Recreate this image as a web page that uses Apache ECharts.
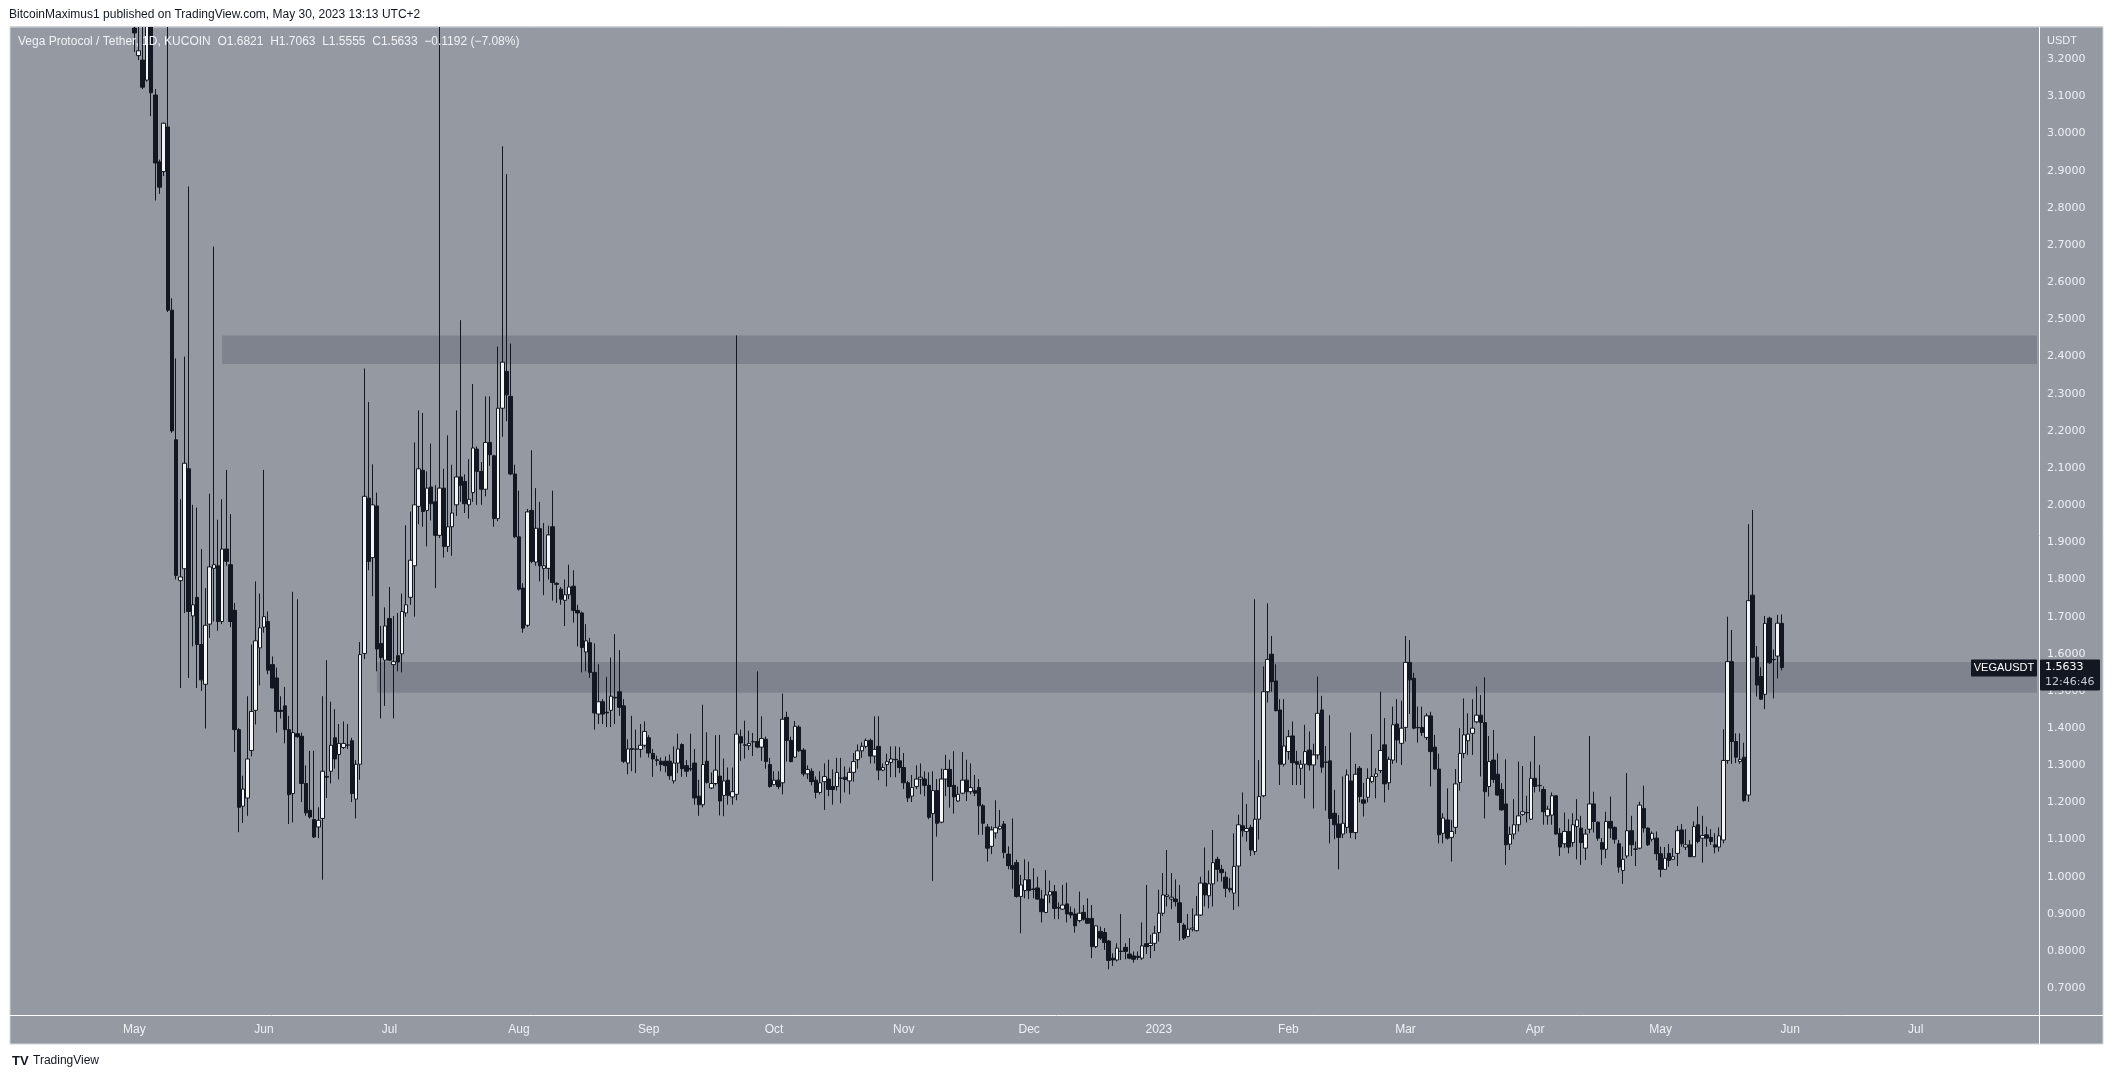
<!DOCTYPE html>
<html>
<head>
<meta charset="utf-8">
<script src="https://cdn.jsdelivr.net/npm/echarts@6/dist/echarts.min.js"></script>
<style>
html,body{margin:0;padding:0;background:#ffffff;}
#chart{width:2113px;height:1079px;}
</style>
</head>
<body>
<div id="chart"></div>
<script>
// ---- axis range / categories ----
const axisStart = '2022-04-02';
const axisEnd = '2023-07-30';
const firstCandle = '2022-05-01';
const yMin = 0.628;
const yMax = 3.287;
const yTicks = [0.7, 0.8, 0.9, 1.0, 1.1, 1.2, 1.3, 1.4, 1.5, 1.6, 1.7, 1.8, 1.9, 2.0, 2.1, 2.2, 2.3, 2.4, 2.5, 2.6, 2.7, 2.8, 2.9, 3.0, 3.1, 3.2];
const monthNames = ['Jan','Feb','Mar','Apr','May','Jun','Jul','Aug','Sep','Oct','Nov','Dec'];

// ---- daily candles, [open, high, low, close] ----
const may22 = [
[3.284,3.40,3.22,3.271],[3.21,3.35,3.198,3.223],[3.198,3.30,3.12,3.125],[3.144,3.45,3.14,3.31],[3.30,3.40,3.047,3.11],
[3.104,3.12,2.82,2.921],[2.924,2.93,2.838,2.856],[2.898,3.03,2.886,3.028],[3.018,3.29,2.52,2.525],[2.525,2.557,2.195,2.20],
[2.176,2.395,1.80,1.811],[1.797,2.016,1.508,1.807],[1.829,2.40,1.71,2.113],[2.098,2.858,1.535,1.714],[1.702,2.001,1.62,1.732],
[1.752,1.994,1.508,1.625],[1.625,1.882,1.50,1.53],[1.518,1.777,1.399,1.677],[1.68,2.031,1.643,1.834],[1.83,2.696,1.687,1.84],
[1.837,1.961,1.662,1.687],[1.687,2.016,1.68,1.882],[1.882,2.095,1.837,1.849],[1.84,1.976,1.672,1.687],[1.717,1.737,1.336,1.396],
[1.396,1.40,1.12,1.187],[1.19,1.272,1.145,1.236],[1.212,1.486,1.164,1.317],[1.34,1.625,1.324,1.445],[1.448,1.795,1.41,1.635],
[1.616,1.762,1.515,1.67]];
const jun22 = [
[1.672,2.095,1.657,1.70],[1.687,1.714,1.545,1.556],[1.571,1.593,1.508,1.508],[1.535,1.563,1.388,1.445],[1.448,1.486,1.426,1.445],
[1.46,1.511,1.359,1.396],[1.396,1.433,1.142,1.221],[1.224,1.767,1.146,1.388],[1.385,1.747,1.374,1.377],[1.378,1.388,1.201,1.251],
[1.251,1.30,1.164,1.172],[1.179,1.339,1.157,1.161],[1.154,1.339,1.104,1.107],[1.134,1.187,1.104,1.152],[1.157,1.486,0.992,1.284],
[1.27,1.583,1.212,1.268],[1.284,1.471,1.251,1.354],[1.374,1.451,1.291,1.317],[1.329,1.411,1.262,1.359],[1.348,1.418,1.344,1.359],
[1.354,1.411,1.344,1.355],[1.366,1.374,1.201,1.224],[1.209,1.314,1.157,1.303],[1.303,1.632,1.261,1.598],[1.601,2.368,1.586,2.024],
[2.019,2.278,1.825,1.849],[1.859,2.11,1.755,2.001],[1.998,2.034,1.553,1.613],[1.628,1.675,1.426,1.59],[1.583,1.725,1.46,1.675]];
const jul22 = [
[1.695,1.78,1.58,1.583],[1.571,1.702,1.426,1.579],[1.595,1.71,1.553,1.578],[1.60,1.762,1.55,1.714],[1.71,1.946,1.70,1.732],
[1.752,1.983,1.732,1.852],[1.837,2.169,1.70,2.001],[1.997,2.255,1.949,2.098],[2.094,2.248,1.942,1.983],[1.986,2.091,1.889,2.046],
[2.049,2.166,1.959,2.004],[2.009,2.054,1.777,1.919],[1.919,3.45,1.912,2.046],[2.046,2.098,1.859,1.889],[1.889,2.188,1.874,1.942],
[1.942,2.109,1.864,1.979],[2.001,2.255,1.971,2.076],[2.076,2.498,2.009,2.054],[2.064,2.083,1.979,2.004],[2.001,2.124,1.964,2.016],
[2.034,2.326,2.009,2.154],[2.151,2.158,2.001,2.091],[2.091,2.116,2.001,2.043],[2.043,2.293,2.024,2.169],[2.169,2.293,2.106,2.136],
[2.133,2.136,1.942,1.964],[1.964,2.427,1.957,2.261],[2.261,2.966,2.184,2.385],[2.36,2.891,2.226,2.297],[2.293,2.435,2.081,2.084],
[2.084,2.109,1.912,1.915]];
const aug22 = [
[1.915,2.039,1.77,1.774],[1.777,1.79,1.657,1.669],[1.677,1.99,1.672,1.982],[1.986,2.148,1.844,1.849],[1.847,2.046,1.837,1.938],
[1.937,2.009,1.795,1.837],[1.83,1.952,1.758,1.837],[1.83,1.945,1.80,1.92],[1.942,2.039,1.743,1.792],[1.79,1.792,1.737,1.787],
[1.774,1.78,1.732,1.747],[1.744,1.80,1.675,1.759],[1.759,1.84,1.747,1.78],[1.782,1.825,1.684,1.717],[1.717,1.732,1.62,1.71],
[1.71,1.714,1.55,1.617],[1.605,1.68,1.553,1.635],[1.63,1.643,1.535,1.55],[1.55,1.628,1.396,1.441],[1.438,1.572,1.411,1.471],
[1.471,1.478,1.411,1.438],[1.443,1.538,1.403,1.441],[1.448,1.59,1.403,1.486],[1.483,1.653,1.411,1.481],[1.498,1.61,1.433,1.456],
[1.46,1.478,1.306,1.311],[1.306,1.37,1.276,1.344],[1.345,1.433,1.284,1.343],[1.343,1.396,1.279,1.344],[1.343,1.411,1.321,1.354],
[1.354,1.418,1.348,1.391]];
const sep22 = [
[1.374,1.381,1.321,1.333],[1.332,1.344,1.269,1.317],[1.315,1.326,1.299,1.313],[1.311,1.321,1.284,1.302],[1.311,1.324,1.281,1.299],
[1.311,1.329,1.261,1.272],[1.258,1.351,1.251,1.306],[1.306,1.385,1.279,1.344],[1.356,1.359,1.269,1.291],[1.299,1.314,1.269,1.284],
[1.291,1.385,1.284,1.29],[1.306,1.344,1.194,1.212],[1.217,1.261,1.164,1.194],[1.194,1.463,1.187,1.302],[1.311,1.389,1.251,1.254],
[1.239,1.281,1.236,1.251],[1.251,1.381,1.246,1.287],[1.271,1.382,1.165,1.204],[1.219,1.318,1.163,1.258],[1.26,1.294,1.194,1.219],
[1.215,1.294,1.194,1.229],[1.222,2.457,1.206,1.384],[1.377,1.396,1.312,1.36],[1.355,1.42,1.318,1.354],[1.353,1.393,1.341,1.359],
[1.363,1.387,1.325,1.364],[1.364,1.553,1.346,1.349],[1.349,1.432,1.312,1.372],[1.37,1.377,1.291,1.31],[1.302,1.32,1.24,1.243]];
const oct22 = [
[1.248,1.284,1.246,1.26],[1.26,1.284,1.236,1.243],[1.253,1.493,1.222,1.424],[1.429,1.444,1.31,1.367],[1.367,1.377,1.308,1.31],
[1.322,1.419,1.32,1.405],[1.403,1.408,1.336,1.339],[1.341,1.346,1.27,1.277],[1.277,1.30,1.263,1.289],[1.284,1.292,1.246,1.256],
[1.26,1.27,1.211,1.227],[1.227,1.284,1.222,1.253],[1.256,1.305,1.18,1.27],[1.263,1.315,1.217,1.235],[1.243,1.289,1.194,1.235],
[1.243,1.32,1.232,1.281],[1.265,1.32,1.198,1.266],[1.268,1.297,1.227,1.262],[1.258,1.294,1.222,1.281],[1.281,1.333,1.256,1.31],
[1.315,1.356,1.291,1.339],[1.339,1.362,1.32,1.351],[1.351,1.372,1.346,1.367],[1.367,1.372,1.305,1.325],[1.325,1.432,1.305,1.343],
[1.351,1.432,1.26,1.287],[1.287,1.305,1.284,1.294],[1.302,1.331,1.243,1.31],[1.308,1.351,1.268,1.317],[1.315,1.351,1.268,1.316],
[1.312,1.349,1.279,1.294]];
const nov22 = [
[1.294,1.333,1.236,1.253],[1.253,1.258,1.201,1.212],[1.217,1.274,1.201,1.24],[1.243,1.30,1.236,1.263],[1.263,1.305,1.222,1.268],
[1.263,1.284,1.217,1.246],[1.246,1.281,1.155,1.16],[1.17,1.284,0.989,1.232],[1.232,1.263,1.108,1.144],[1.147,1.291,1.144,1.263],
[1.263,1.328,1.217,1.289],[1.289,1.315,1.186,1.243],[1.246,1.338,1.17,1.215],[1.204,1.243,1.201,1.222],[1.225,1.336,1.222,1.26],
[1.26,1.315,1.204,1.229],[1.229,1.305,1.222,1.24],[1.232,1.274,1.217,1.225],[1.24,1.263,1.113,1.191],[1.191,1.196,1.113,1.144],
[1.134,1.142,1.041,1.077],[1.082,1.136,1.061,1.126],[1.118,1.206,1.103,1.132],[1.129,1.18,1.126,1.136],[1.142,1.15,1.05,1.065],
[1.061,1.082,1.02,1.03],[1.03,1.157,0.968,1.02],[1.038,1.046,0.944,0.947],[0.947,1.005,0.848,0.978],[0.963,1.047,0.942,0.992]];
const dec22 = [
[0.992,1.041,0.94,0.963],[0.967,1.023,0.942,0.966],[0.97,1.0,0.938,0.94],[0.94,0.965,0.877,0.906],[0.904,1.018,0.902,0.951],
[0.951,0.99,0.929,0.96],[0.96,0.978,0.886,0.915],[0.917,0.931,0.886,0.916],[0.913,0.978,0.911,0.924],[0.927,0.984,0.877,0.90],
[0.904,0.92,0.888,0.897],[0.90,0.915,0.85,0.868],[0.882,0.96,0.877,0.902],[0.904,0.924,0.882,0.886],[0.888,0.942,0.873,0.875],
[0.888,0.924,0.781,0.812],[0.812,0.868,0.808,0.868],[0.853,0.866,0.83,0.835],[0.85,0.862,0.803,0.823],[0.827,0.83,0.751,0.775],
[0.781,0.794,0.76,0.776],[0.776,0.821,0.772,0.808],[0.80,0.90,0.776,0.799],[0.81,0.821,0.778,0.799],[0.792,0.835,0.778,0.781],
[0.787,0.799,0.769,0.778],[0.786,0.799,0.776,0.783],[0.781,0.877,0.776,0.814],[0.82,0.978,0.792,0.812],[0.815,0.844,0.781,0.821],
[0.821,0.868,0.80,0.848]];
const jan23 = [
[0.85,0.965,0.826,0.902],[0.902,1.01,0.895,0.951],[0.947,1.072,0.92,0.951],[0.94,1.01,0.913,0.945],[0.94,0.993,0.92,0.933],
[0.93,0.978,0.828,0.877],[0.87,0.875,0.83,0.835],[0.839,0.90,0.837,0.859],[0.859,0.915,0.853,0.862],[0.855,0.948,0.853,0.897],
[0.897,1.0,0.895,0.983],[0.983,1.079,0.92,0.951],[0.949,1.017,0.915,0.981],[0.981,1.126,0.92,1.038],[1.047,1.054,0.987,1.02],
[1.02,1.032,0.987,1.011],[0.999,1.014,0.945,0.969],[0.969,0.996,0.958,0.965],[0.956,1.117,0.911,1.028],[1.029,1.167,0.92,1.14],
[1.137,1.227,1.108,1.124],[1.122,1.196,1.095,1.13],[1.133,1.14,1.056,1.072],[1.068,1.747,1.059,1.155],[1.155,1.314,1.10,1.216],
[1.218,1.566,1.214,1.498],[1.498,1.736,1.469,1.585],[1.599,1.648,1.498,1.525],[1.527,1.572,1.445,1.447],[1.449,1.478,1.247,1.303],
[1.303,1.478,1.297,1.352]];
const feb23 = [
[1.337,1.395,1.315,1.377],[1.379,1.418,1.247,1.307],[1.31,1.339,1.247,1.303],[1.292,1.314,1.247,1.303],[1.303,1.409,1.211,1.337],
[1.341,1.391,1.286,1.301],[1.301,1.358,1.184,1.328],[1.328,1.539,1.316,1.44],[1.449,1.487,1.28,1.295],[1.309,1.352,1.178,1.308],
[1.312,1.435,1.09,1.157],[1.171,1.234,1.101,1.14],[1.142,1.166,1.02,1.106],[1.115,1.27,1.104,1.144],[1.133,1.289,1.117,1.274],
[1.258,1.388,1.104,1.119],[1.119,1.304,1.101,1.276],[1.292,1.298,1.20,1.216],[1.207,1.253,1.162,1.198],[1.214,1.292,1.20,1.265],
[1.256,1.384,1.252,1.27],[1.27,1.292,1.211,1.277],[1.286,1.498,1.279,1.34],[1.355,1.427,1.20,1.25],[1.253,1.323,1.234,1.316],
[1.314,1.458,1.304,1.409],[1.411,1.478,1.307,1.368],[1.359,1.474,1.301,1.40]];
const mar23 = [
[1.402,1.648,1.364,1.577],[1.577,1.637,1.438,1.53],[1.534,1.549,1.397,1.40],[1.402,1.458,1.361,1.401],[1.402,1.458,1.379,1.388],
[1.375,1.44,1.368,1.433],[1.433,1.444,1.243,1.337],[1.349,1.382,1.288,1.29],[1.29,1.331,1.09,1.113],[1.117,1.171,1.09,1.158],
[1.153,1.238,1.10,1.104],[1.106,1.153,1.041,1.122],[1.133,1.29,1.115,1.25],[1.254,1.40,1.232,1.332],[1.332,1.48,1.319,1.382],
[1.366,1.44,1.328,1.384],[1.386,1.478,1.328,1.40],[1.417,1.512,1.413,1.435],[1.435,1.489,1.27,1.415],[1.415,1.537,1.157,1.229],
[1.243,1.379,1.216,1.31],[1.314,1.395,1.253,1.262],[1.276,1.332,1.218,1.22],[1.235,1.252,1.178,1.18],[1.196,1.316,1.032,1.086],
[1.088,1.135,1.072,1.114],[1.115,1.209,1.101,1.14],[1.14,1.31,1.122,1.164],[1.168,1.298,1.164,1.175],[1.173,1.218,1.146,1.172],
[1.155,1.31,1.153,1.265]];
const apr23 = [
[1.265,1.379,1.227,1.243],[1.245,1.301,1.229,1.246],[1.235,1.243,1.14,1.175],[1.164,1.191,1.14,1.182],[1.166,1.227,1.14,1.218],
[1.218,1.218,1.113,1.115],[1.117,1.131,1.056,1.08],[1.089,1.173,1.077,1.122],[1.122,1.155,1.063,1.08],[1.092,1.171,1.081,1.14],
[1.135,1.209,1.047,1.153],[1.131,1.164,1.032,1.092],[1.077,1.128,1.045,1.115],[1.128,1.379,1.117,1.196],[1.196,1.229,1.119,1.149],
[1.147,1.149,1.097,1.104],[1.092,1.104,1.032,1.074],[1.074,1.175,1.05,1.149],[1.149,1.216,1.104,1.131],[1.133,1.135,1.089,1.101],
[1.089,1.099,1.011,1.026],[1.017,1.081,0.981,1.047],[1.056,1.279,1.05,1.124],[1.124,1.164,1.056,1.086],[1.075,1.095,1.029,1.074],
[1.077,1.202,1.074,1.193],[1.184,1.245,1.119,1.131],[1.131,1.133,1.083,1.086],[1.101,1.122,1.095,1.117],[1.104,1.122,1.044,1.062]];
const may23 = [
[1.062,1.081,0.999,1.02],[1.02,1.08,1.019,1.05],[1.063,1.088,1.027,1.044],[1.047,1.077,1.046,1.054],[1.063,1.137,1.029,1.124],
[1.126,1.142,1.081,1.089],[1.08,1.128,1.072,1.086],[1.086,1.099,1.053,1.054],[1.054,1.149,1.053,1.135],[1.14,1.189,1.09,1.095],
[1.104,1.164,1.038,1.111],[1.113,1.135,1.081,1.104],[1.106,1.128,1.086,1.095],[1.086,1.117,1.063,1.08],[1.08,1.133,1.068,1.11],
[1.099,1.397,1.09,1.313],[1.313,1.70,1.304,1.579],[1.579,1.664,1.304,1.364],[1.364,1.386,1.306,1.322],[1.31,1.386,1.304,1.316],
[1.322,1.361,1.202,1.205],[1.22,1.949,1.202,1.743],[1.758,1.987,1.588,1.591],[1.591,1.621,1.485,1.516],[1.539,1.564,1.476,1.478],
[1.491,1.702,1.451,1.682],[1.696,1.70,1.573,1.576],[1.585,1.612,1.48,1.584],[1.594,1.705,1.534,1.6825],[1.6821,1.7063,1.5555,1.5633]];

const monthsOfCandles = [may22, jun22, jul22, aug22, sep22, oct22, nov22, dec22, jan23, feb23, mar23, apr23, may23];

// horizontal zones drawn on the chart
const zoneFrom = ['2022-05-22', '2022-06-28'];
const zoneTo = ['2023-07-30', '2023-07-30'];
const zoneLow = [2.38, 1.495];
const zoneHigh = [2.457, 1.578];

// ---- build categories (one per day) ----
function fmt(d){ return d.toISOString().slice(0,10); }
const categories = [];
for (let d = new Date(axisStart + 'T00:00:00Z'); fmt(d) <= axisEnd; d.setUTCDate(d.getUTCDate()+1)) categories.push(fmt(d));

// ---- candle rows [date, open, close, low, high] ----
const rows = [];
{
  let d = new Date(firstCandle + 'T00:00:00Z');
  monthsOfCandles.forEach(m => m.forEach(([o,h,l,c]) => {
    rows.push([fmt(d), o, c, l, h]);
    d.setUTCDate(d.getUTCDate()+1);
  }));
}
const last = rows[rows.length-1];
const prev = rows[rows.length-2];
const lastO = last[1], lastC = last[2], lastL = last[3], lastH = last[4];
const chg = lastC - prev[2];
const sgn = v => (v < 0 ? '\u2212' : '+');
const legendText = 'Vega Protocol / Tether, 1D, KUCOIN  O' + lastO.toFixed(4) + '  H' + lastH.toFixed(4) +
  '  L' + lastL.toFixed(4) + '  C' + lastC.toFixed(4) + '  ' + sgn(chg) + Math.abs(chg).toFixed(4) +
  ' (' + sgn(chg) + Math.abs(chg / prev[2] * 100).toFixed(2) + '%)';

const FONT = "'Liberation Sans', 'Noto Sans', Arial, sans-serif";
const AXFONT = "'DejaVu Sans', 'Liberation Sans', sans-serif";
const chart = echarts.init(document.getElementById('chart'), null, {renderer: 'canvas'});

const option = {
  animation: false,
  backgroundColor: '#ffffff',
  grid: {left: 11, right: 74, top: 27, bottom: 64, containLabel: false},
  xAxis: {
    type: 'category',
    data: categories,
    boundaryGap: true,
    axisLine: {show: false},
    axisTick: {show: false},
    splitLine: {show: false},
    axisLabel: {
      interval: (i, v) => v.slice(8) === '01',
      formatter: v => (v.slice(5,7) === '01' ? v.slice(0,4) : monthNames[parseInt(v.slice(5,7),10)-1]),
      color: '#eef0f5', fontSize: 12, fontFamily: FONT, margin: 9
    }
  },
  yAxis: {
    type: 'value',
    position: 'right',
    min: yMin, max: yMax,
    axisLine: {show: false},
    axisTick: {show: false},
    splitLine: {show: false},
    axisLabel: {
      customValues: yTicks,
      formatter: v => v.toFixed(4),
      color: '#eef0f5', fontSize: 11, fontFamily: AXFONT, margin: 8
    }
  },
  series: [{
    type: 'candlestick',
    data: rows,
    encode: {x: 0, y: [1, 2, 3, 4]},
    barWidth: 4,
    clip: true,
    itemStyle: {
      color: '#f4f5f7', color0: '#131722',
      borderColor: '#131722', borderColor0: '#131722', borderWidth: 1
    },
    markArea: {
      silent: true,
      itemStyle: {color: 'rgba(88,92,104,0.36)'},
      data: zoneFrom.map((f, i) => [{xAxis: f, yAxis: zoneLow[i]}, {xAxis: zoneTo[i], yAxis: zoneHigh[i]}])
    }
  }],
  graphic: [
    {type: 'rect', z: -10, silent: true, shape: {x: 10, y: 27, width: 2093, height: 1017},
     style: {fill: '#959aa2', stroke: '#d4d6dc', lineWidth: 1}},
    {type: 'rect', z: 40, silent: true, shape: {x: 0, y: 0, width: 2113, height: 26.5},
     style: {fill: '#ffffff'}},
    {type: 'line', z: 50, silent: true, shape: {x1: 10, y1: 26.5, x2: 2103, y2: 26.5}, style: {stroke: '#d4d6dc', lineWidth: 1}},
    {type: 'line', z: 50, silent: true, shape: {x1: 2039.5, y1: 27, x2: 2039.5, y2: 1044}, style: {stroke: '#ffffff', lineWidth: 1}},
    {type: 'line', z: 50, silent: true, shape: {x1: 10, y1: 1015.5, x2: 2103, y2: 1015.5}, style: {stroke: '#ffffff', lineWidth: 1}},
    {type: 'text', z: 50, silent: true, x: 9, y: 15,
     style: {text: 'BitcoinMaximus1 published on TradingView.com, May 30, 2023 13:13 UTC+2', fill: '#131722',
             font: '12px ' + FONT, textVerticalAlign: 'middle'}},
    {type: 'text', z: 50, silent: true, x: 18, y: 42,
     style: {text: legendText, fill: '#f0f2f6', font: '12px ' + FONT, textVerticalAlign: 'middle'}},
    {type: 'text', z: 50, silent: true, x: 2047, y: 41,
     style: {text: 'USDT', fill: '#f0f2f6', font: '11px ' + FONT, textVerticalAlign: 'middle'}},
    {type: 'text', z: 50, silent: true, x: 12, y: 1061,
     style: {text: 'TV', fill: '#131722', font: 'bold 13px ' + FONT, textVerticalAlign: 'middle'}},
    {type: 'text', z: 50, silent: true, x: 33, y: 1061,
     style: {text: 'TradingView', fill: '#131722', font: '12px ' + FONT, textVerticalAlign: 'middle'}}
  ]
};
chart.setOption(option);

// last price tags, placed through the y scale
const py = chart.convertToPixel({yAxisIndex: 0}, lastC);
chart.setOption({graphic: option.graphic.concat([
  {type: 'rect', z: 60, silent: true, shape: {x: 2040, y: py - 8, width: 60, height: 31, r: 1}, style: {fill: '#131722'}},
  {type: 'text', z: 61, silent: true, x: 2045, y: py,
   style: {text: lastC.toFixed(4), fill: '#ffffff', font: '11px ' + AXFONT, textVerticalAlign: 'middle'}},
  {type: 'text', z: 61, silent: true, x: 2045, y: py + 15,
   style: {text: '12:46:46', fill: '#c8cbd3', font: '11px ' + AXFONT, textVerticalAlign: 'middle'}},
  {type: 'rect', z: 60, silent: true, shape: {x: 1971, y: py - 8, width: 66, height: 17, r: 1}, style: {fill: '#131722'}},
  {type: 'text', z: 61, silent: true, x: 2004, y: py + 0.5,
   style: {text: 'VEGAUSDT', fill: '#ffffff', font: '11px ' + FONT, textAlign: 'center', textVerticalAlign: 'middle'}}
])});
</script>
</body>
</html>
